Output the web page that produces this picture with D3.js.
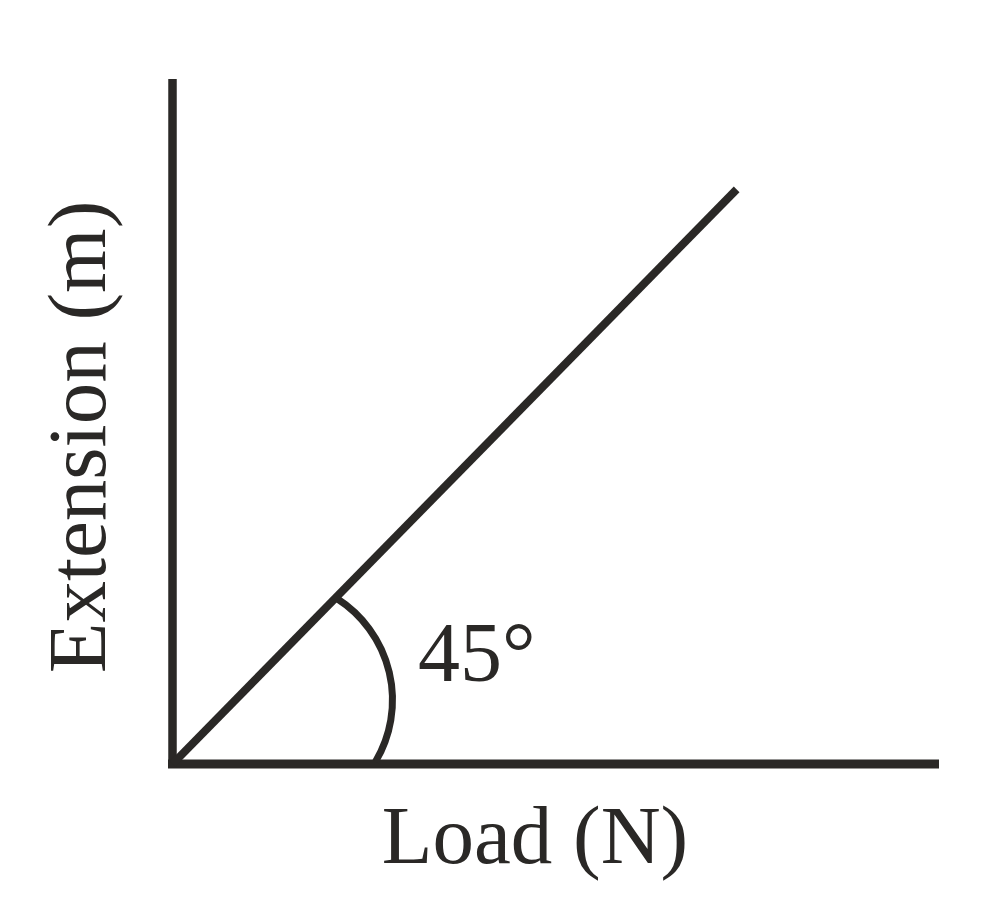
<!DOCTYPE html>
<html>
<head>
<meta charset="utf-8">
<script src="https://cdn.jsdelivr.net/npm/d3@7"></script>
<style>
  body { margin: 0; background: #fff; }
  svg text { font-family: "Liberation Serif", "Times New Roman", serif; fill: #2a2826; }
</style>
</head>
<body>
<div id="chart"></div>
<script>
// data in "units" where one unit is the same size on both axes (keeps the 45 deg look)
const xDomain = [0, 100];
const yDomain = [0, 89.4];
const linePoints = [[0, 0], [73.6, 75.0]];
// angle marker: centre, radius (data units), start / end angle (radians, svg convention)
const arcCentre = [13.0, 8.35];
const arcRadius = 15.7;
const arcAngles = [-1.003, 0.538];
const xLabel = "Load (N)";
const yLabel = "Extension (m)";
const angleLabel = "45°";

const width = 981, height = 918;
const ink = "#2a2826";
const margin = { top: 79, right: 42, bottom: 154, left: 172.5 };

const svg = d3.select("#chart").append("svg")
    .attr("width", width)
    .attr("height", height);

const x = d3.scaleLinear().domain(xDomain).range([margin.left, width - margin.right]);
const y = d3.scaleLinear().domain(yDomain).range([height - margin.bottom, margin.top]);

// axes - no ticks, just the bare lines
const xAxis = d3.axisBottom(x).tickValues([]).tickSizeOuter(0);
const yAxis = d3.axisLeft(y).tickValues([]).tickSizeOuter(0);

const gx = svg.append("g")
    .attr("transform", "translate(0," + y(0) + ")")
    .call(xAxis);
gx.select(".domain")
    .attr("stroke", ink)
    .attr("stroke-width", 9)
    .attr("d", "M" + (x(0) - 4.5) + ",0H" + x(xDomain[1]));

const gy = svg.append("g")
    .attr("transform", "translate(" + x(0) + ",0)")
    .call(yAxis);
gy.select(".domain")
    .attr("stroke", ink)
    .attr("stroke-width", 8.5)
    .attr("d", "M0," + (y(0) + 4) + "V" + y(yDomain[1]));

// the straight line
const line = d3.line()
    .x(d => x(d[0]))
    .y(d => y(d[1]));

svg.append("path")
    .datum(linePoints)
    .attr("d", line)
    .attr("fill", "none")
    .attr("stroke", ink)
    .attr("stroke-width", 8);

// angle marker arc
const px = x(arcCentre[0]), py = y(arcCentre[1]);
const r = x(arcRadius) - x(0);
const p = d3.path();
p.arc(px, py, r, arcAngles[0], arcAngles[1], false);
svg.append("path")
    .attr("d", p.toString())
    .attr("fill", "none")
    .attr("stroke", ink)
    .attr("stroke-width", 7);

// labels
svg.append("text")
    .attr("x", 535)
    .attr("y", 863)
    .attr("text-anchor", "middle")
    .attr("font-size", 83)
    .text(xLabel);

svg.append("text")
    .attr("transform", "translate(105,437) rotate(-90)")
    .attr("text-anchor", "middle")
    .attr("font-size", 83)
    .text(yLabel);

svg.append("text")
    .attr("x", 418)
    .attr("y", 681)
    .attr("font-size", 84)
    .text(angleLabel);
</script>
</body>
</html>
